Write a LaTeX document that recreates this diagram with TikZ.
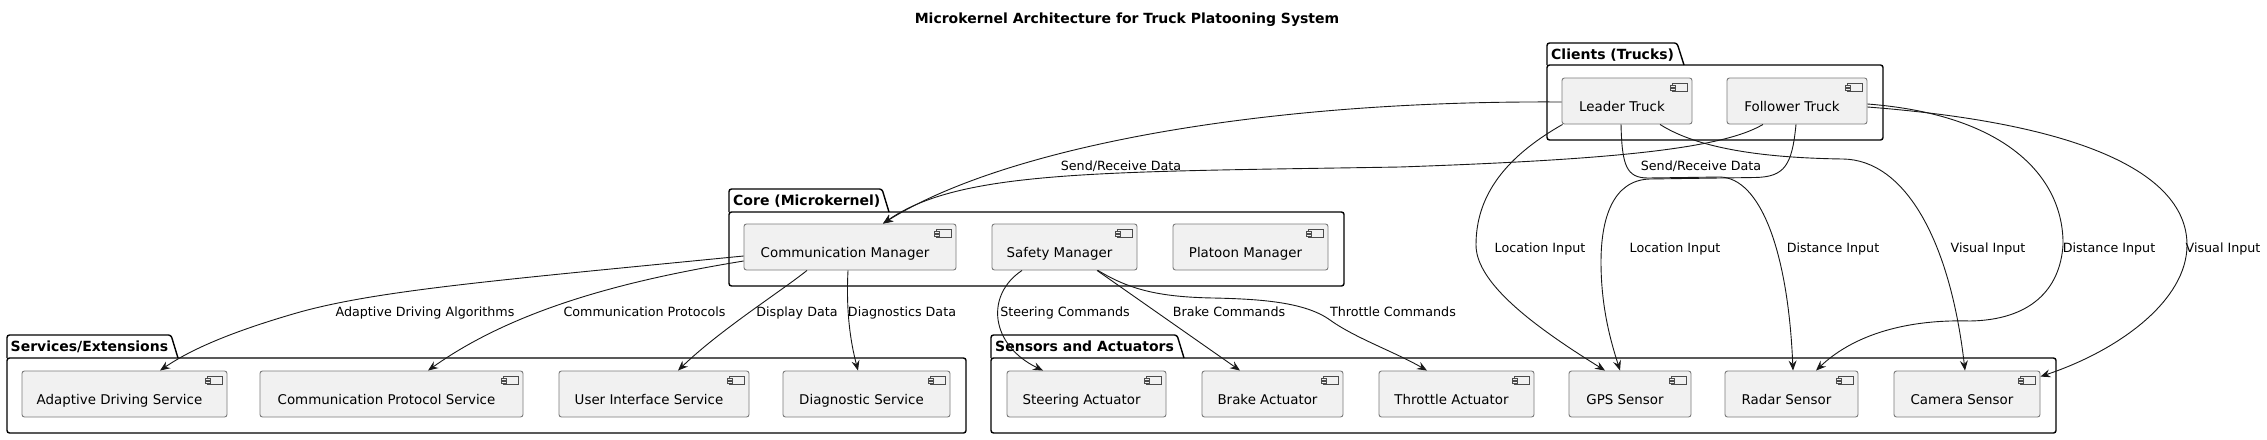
\documentclass[tikz,border=0pt]{standalone}
\usepackage{fontspec}
\setmainfont{DejaVu Sans}
\usetikzlibrary{arrows.meta,calc}
\definecolor{compfill}{HTML}{F1F1F1}
\definecolor{compline}{HTML}{7A7A7A}
\definecolor{edgecol}{HTML}{181818}
\tikzset{
 comp/.style={draw=compline, fill=compfill, line width=0.9pt, rounded corners=2.5pt, inner sep=0pt,
   minimum height=46pt, text height=22pt, text depth=2pt, font=\fontsize{13.4}{15}\selectfont},
 pkg/.style={draw=black, line width=1.4pt, rounded corners=2.5pt},
 pkgtitle/.style={anchor=base west, inner sep=0pt, font=\bfseries\fontsize{14}{16}\selectfont},
 elabel/.style={anchor=base, inner sep=0pt, font=\fontsize{12.7}{15}\selectfont},
 conn/.style={draw=edgecol, line width=0.9pt, -{Stealth[length=10pt,width=8pt,inset=3.5pt]}},
 icon/.style={draw=black!70, line width=0.6pt, fill=compfill},
}
\newcommand\compicon[1]{%
 \draw[icon] ($(#1.north east)+(-20,6)$) rectangle ($(#1.north east)+(-5,14)$);
 \draw[icon] ($(#1.north east)+(-22.5,8)$) rectangle ($(#1.north east)+(-17.5,10)$);
 \draw[icon] ($(#1.north east)+(-22.5,11)$) rectangle ($(#1.north east)+(-17.5,13)$);}
\begin{document}
\begin{tikzpicture}[x=1pt,y=-1pt]
\useasboundingbox (0,0) rectangle (2267,439);
\fill[white] (0,0) rectangle (2267,439);

\node[anchor=base, inner sep=0pt, font=\bfseries\fontsize{14}{16}\selectfont] (title) at (1127,23.5) {Microkernel Architecture for Truck Platooning System};

% packages
\draw[pkg] (1547,65) -- (1547,43) -- (1677,43) -- (1684,65);
\draw[pkg] (1547,65) rectangle (1883,140);
\node[pkgtitle] (tclients) at (1551,59) {Clients (Trucks)};

\draw[pkg] (729,212) -- (729,189) -- (882,189) -- (889,212);
\draw[pkg] (729,212) rectangle (1344,286);
\node[pkgtitle] (tcore) at (733,205) {Core (Microkernel)};

\draw[pkg] (7,358) -- (7,335) -- (171,335) -- (178,358);
\draw[pkg] (7,358) rectangle (966,433);
\node[pkgtitle] (tserv) at (10.5,351) {Services/Extensions};

\draw[pkg] (991,358) -- (991,335) -- (1177,335) -- (1184,358);
\draw[pkg] (991,358) rectangle (2056,433);
\node[pkgtitle] (tsens) at (995,351) {Sensors and Actuators};

% components
\node[comp, minimum width=130pt] (lt) at (1627,101) {Leader Truck\hspace*{10pt}};
\node[comp, minimum width=140pt] (ft) at (1797,101) {Follower Truck\hspace*{10pt}};

\node[comp, minimum width=212pt] (cm) at (850,247) {Communication Manager\hspace*{10pt}};
\node[comp, minimum width=145pt] (sm) at (1064.5,247) {Safety Manager\hspace*{10pt}};
\node[comp, minimum width=155pt] (pm) at (1250.5,247) {Platoon Manager\hspace*{10pt}};

\node[comp, minimum width=205pt] (ads) at (124.5,394) {Adaptive Driving Service\hspace*{10pt}};
\node[comp, minimum width=263pt] (cps) at (391.5,394) {Communication Protocol Service\hspace*{10pt}};
\node[comp, minimum width=190pt] (uis) at (654,394) {User Interface Service\hspace*{10pt}};
\node[comp, minimum width=167pt] (ds) at (866.5,394) {Diagnostic Service\hspace*{10pt}};

\node[comp, minimum width=159pt] (sa) at (1086.5,394) {Steering Actuator\hspace*{10pt}};
\node[comp, minimum width=141pt] (ba) at (1272.5,394) {Brake Actuator\hspace*{10pt}};
\node[comp, minimum width=155pt] (ta) at (1456.5,394) {Throttle Actuator\hspace*{10pt}};
\node[comp, minimum width=122pt] (gps) at (1630,394) {GPS Sensor\hspace*{10pt}};
\node[comp, minimum width=133pt] (rs) at (1791.5,394) {Radar Sensor\hspace*{10pt}};
\node[comp, minimum width=146pt] (cs) at (1967,394) {Camera Sensor\hspace*{10pt}};

\foreach \n in {lt,ft,cm,sm,pm,ads,cps,uis,ds,sa,ba,ta,gps,rs,cs} {\compicon{\n}}

% connectors
\draw[conn] ($(lt.west)+(0,1)$) .. controls (1250,100) and (1000,150) .. ($(cm.north)+(33,0)$);
\draw[conn] ($(ft.south)+(-34,0)$) .. controls (1720,150) and (1600,160) .. (1400,167)
   .. controls (1100,172) and (960,170) .. ($(cm.north)+(33,0)$);

\draw[conn] ($(lt.south west)+(1,0)$) .. controls (1500,160) and (1476,200) .. (1476,245)
   .. controls (1476,285) and (1540,330) .. ($(gps.north)+(-25,0)$);
\draw[conn] ($(ft.south)+(-1,0)$) .. controls (1792,165) and (1785,177) .. (1755,177.5) -- (1650,179)
   .. controls (1612,180) and (1601,220) .. (1601,262) .. controls (1601,310) and (1612,345) .. ($(gps.north)+(-10,0)$);
\draw[conn] ($(lt.south)+(-6,0)$) .. controls (1622,165) and (1626,178) .. (1648,178) -- (1720,177)
   .. controls (1760,178) and (1788,250) .. ($(rs.north)+(1.5,0)$);
\draw[conn] ($(ft.east)+(0,3)$) .. controls (2010,115) and (2064,180) .. (2063,245)
   .. controls (2060,290) and (2030,320) .. (1970,321) .. controls (1900,319) and (1850,338) .. ($(rs.north)+(24.5,0)$);
\draw[conn] ($(lt.south)+(33,0)$) .. controls (1700,150) and (1770,158) .. (1843,159)
   .. controls (1905,160) and (1950,240) .. ($(cs.north)+(-2,0)$);
\draw[conn] ($(ft.east)+(0,6)$) .. controls (2100,125) and (2187,180) .. (2187,245)
   .. controls (2187,300) and (2120,350) .. ($(cs.north east)+(0,6)$);

\draw[conn] ($(cm.west)+(0,9)$) .. controls (500,280) and (380,290) .. (300,312)
   .. controls (230,332) and (190,350) .. ($(ads.north)+(35.5,0)$);
\draw[conn] ($(cm.west)+(0,14)$) .. controls (640,278) and (520,305) .. ($(cps.north)+(36.5,0)$);
\draw[conn] ($(cm.south)+(-43,0)$) .. controls (780,292) and (720,330) .. ($(uis.north)+(24,0)$);
\draw[conn] ($(cm.south)+(-2,0)$) .. controls (846,310) and (850,340) .. ($(ds.north)+(-8.5,0)$);

\draw[conn] ($(sm.south)+(-42.5,0)$) .. controls (985,295) and (990,345) .. ($(sa.north)+(-43.5,0)$);
\draw[conn] ($(sm.south)+(32.5,0)$) -- ($(ba.north)+(-32.5,0)$);
\draw[conn] ($(sm.south)+(33.5,0)$) .. controls (1130,290) and (1160,297) .. (1213,298)
   .. controls (1260,299) and (1305,302) .. (1330,320) .. controls (1355,338) and (1395,352) .. ($(ta.north)+(-29.5,0)$);

% labels
\node[elabel] (l1) at (1121,170) {Send/Receive Data};
\node[elabel] (l2) at (1701,170) {Send/Receive Data};
\node[elabel] (l3) at (1540,252) {Location Input};
\node[elabel] (l4) at (1675,252) {Location Input};
\node[elabel] (l5) at (1833,252) {Distance Input};
\node[elabel] (l6) at (1988,252) {Visual Input};
\node[elabel] (l7) at (2109,252) {Distance Input};
\node[elabel] (l8) at (2223,252) {Visual Input};
\node[elabel] (l9) at (425,316.5) {Adaptive Driving Algorithms};
\node[elabel] (l10) at (644.5,316.5) {Communication Protocols};
\node[elabel] (l11) at (797,316.5) {Display Data};
\node[elabel] (l12) at (902,316.5) {Diagnostics Data};
\node[elabel] (l13) at (1065,316.5) {Steering Commands};
\node[elabel] (l14) at (1229,316.5) {Brake Commands};
\node[elabel] (l15) at (1393,316.5) {Throttle Commands};
\end{tikzpicture}
\end{document}
